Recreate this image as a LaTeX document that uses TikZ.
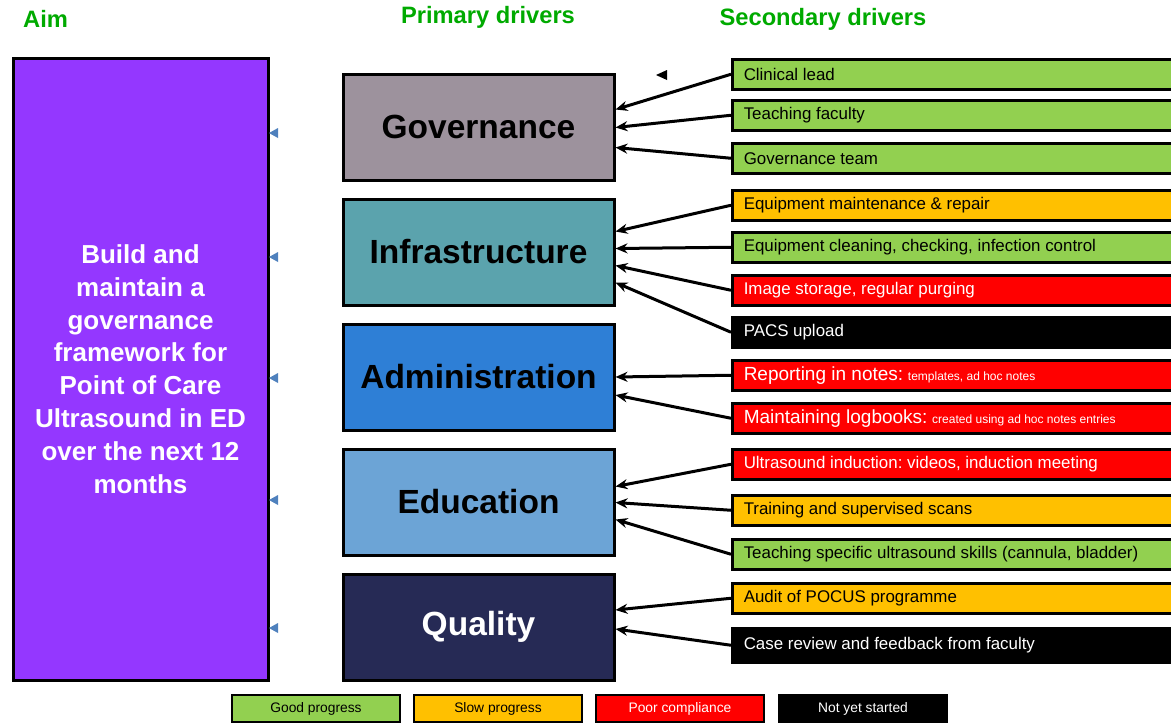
\documentclass[tikz,border=0pt]{standalone}
\usepackage{fontspec}
\setmainfont{Liberation Sans}
\usetikzlibrary{arrows.meta}
\definecolor{hdr}{HTML}{00AA00}
\definecolor{aimc}{HTML}{9437FF}
\definecolor{govc}{HTML}{9D929D}
\definecolor{infc}{HTML}{5BA3AD}
\definecolor{admc}{HTML}{2E7FD6}
\definecolor{educ}{HTML}{6CA4D6}
\definecolor{qualc}{HTML}{262A55}
\definecolor{goodc}{HTML}{92D050}
\definecolor{slowc}{HTML}{FFC000}
\definecolor{poorc}{HTML}{FF0000}
\definecolor{tric}{HTML}{4F81BD}
\tikzset{
  header/.style={text=hdr, font=\fontsize{23.7}{27}\selectfont\bfseries, inner sep=0pt},
  prim/.style={draw=black, line width=3pt, minimum width=271pt, minimum height=106pt, anchor=north west, inner sep=0pt, font=\fontsize{33.5}{38}\selectfont\bfseries},
  sec/.style={draw=black, line width=2.5pt, minimum height=30pt, anchor=north west, text width=432pt, inner xsep=11.5pt, inner ysep=0pt, align=flush left, font=\frenchspacing\fontsize{16.9}{19}\selectfont},
  good/.style={sec, fill=goodc, text=black},
  slow/.style={sec, fill=slowc, text=black},
  poor/.style={sec, fill=poorc, text=white},
  notyet/.style={sec, fill=black, text=white},
  leg/.style={draw=black, line width=2pt, minimum width=168pt, minimum height=27pt, anchor=north west, inner sep=0pt, font=\fontsize{13.8}{16}\selectfont},
  arr/.style={draw=black, line width=3pt, -{Stealth[length=12pt,width=10pt]}},
  tri/.style={fill=tric, draw=none},
}
\newcommand{\bigtxt}[1]{{\fontsize{19}{21}\selectfont #1}}
\newcommand{\smalltxt}[1]{{\fontsize{12}{14}\selectfont #1}}
\begin{document}
\begin{tikzpicture}[x=1pt,y=-1pt]
\useasboundingbox (0,0) rectangle (1171,724);
% headers
\node[header, anchor=west] (haim) at (23,19) {Aim};
\node[header] (hprim) at (488,17) {Primary drivers};
\node[header] (hsec) at (823,19) {Secondary drivers};
% aim
\node[draw=black, line width=3pt, fill=aimc, minimum width=255pt, minimum height=622pt, anchor=north west, text=white, align=center, font=\fontsize{26}{32.8}\selectfont\bfseries] (aim) at (11.5,56.5)
  {Build and\\maintain a\\governance\\framework for\\Point of Care\\Ultrasound in ED\\over the next 12\\months};
% primary drivers
\node[prim, fill=govc] (gov) at (341.5,72.5) {Governance};
\node[prim, fill=infc] (inf) at (341.5,197.5) {Infrastructure};
\node[prim, fill=admc] (adm) at (341.5,322.5) {Administration};
\node[prim, fill=educ] (edu) at (341.5,447.5) {Education};
\node[prim, fill=qualc, text=white] (qual) at (341.5,572.5) {Quality};
% secondary drivers
\node[good] (s1) at (731,58) {Clinical lead};
\node[good] (s2) at (731,99) {Teaching faculty};
\node[good] (s3) at (731,142) {Governance team};
\node[slow] (s4) at (731,189) {Equipment maintenance \& repair};
\node[good] (s5) at (731,231) {Equipment cleaning, checking, infection control};
\node[poor] (s6) at (731,274) {Image storage, regular purging};
\node[notyet] (s7) at (731,316) {PACS upload};
\node[poor] (s8) at (731,359) {\bigtxt{Reporting in notes:} \smalltxt{templates, ad hoc notes}};
\node[poor] (s9) at (731,402) {\bigtxt{Maintaining logbooks:} \smalltxt{created using ad hoc notes entries}};
\node[poor] (s10) at (731,448) {Ultrasound induction: videos, induction meeting};
\node[slow] (s11) at (731,494) {Training and supervised scans};
\node[good] (s12) at (731,538) {Teaching specific ultrasound skills (cannula, bladder)};
\node[slow] (s13) at (731,582) {Audit of POCUS programme};
\node[notyet, minimum height=34pt] (s14) at (731,627) {Case review and feedback from faculty};
% connectors
\draw[arr] (s1.west) -- ([yshift=17.5pt]gov.east);
\draw[arr] (s2.west) -- ([yshift=-0.5pt]gov.east);
\draw[arr] (s3.west) -- ([yshift=-20.5pt]gov.east);
\draw[arr] (s4.west) -- ([yshift=20.5pt]inf.east);
\draw[arr] (s5.west) -- ([yshift=3.5pt]inf.east);
\draw[arr] (s6.west) -- ([yshift=-13.5pt]inf.east);
\draw[arr] (s7.west) -- ([yshift=-30.5pt]inf.east);
\draw[arr] (s8.west) -- ([yshift=0pt]adm.east);
\draw[arr] (s9.west) -- ([yshift=-18pt]adm.east);
\draw[arr] (s10.west) -- ([yshift=15.5pt]edu.east);
\draw[arr] (s11.west) -- ([yshift=-0.5pt]edu.east);
\draw[arr] (s12.west) -- ([yshift=-17.5pt]edu.east);
\draw[arr] (s13.west) -- ([yshift=17pt]qual.east);
\draw[arr] (s14.west) -- ([yshift=-2pt]qual.east);
% stray arrowheads
\foreach \yy in {133,257,378,500,628}{
  \fill[tri] (269,\yy) -- (278,\yy-5) -- (278,\yy+5) -- cycle;
}
\fill[black] (656,75) -- (667,70) -- (667,80) -- cycle;
% legend
\node[leg, fill=goodc] (l1) at (231,694) {Good progress};
\node[leg, fill=slowc] (l2) at (413,694) {Slow progress};
\node[leg, fill=poorc, text=white] (l3) at (595,694) {Poor compliance};
\node[leg, fill=black, text=white] (l4) at (778,694) {Not yet started};
\end{tikzpicture}
\end{document}
